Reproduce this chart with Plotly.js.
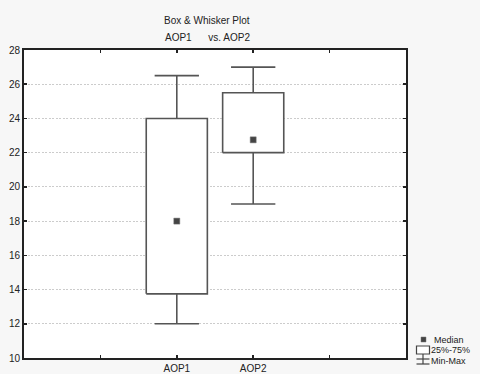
<!DOCTYPE html>
<html><head><meta charset="utf-8">
<script src="https://cdn.plot.ly/plotly-3.0.1.min.js"></script>
<style>html,body{margin:0;padding:0;background:#f7f7f7}</style>
</head><body>
<div id="chart" style="width:480px;height:374px"></div>
<script>
const categories = ['AOP1', 'AOP2'];
const minValues = [12, 19];
const q1Values = [13.75, 22];
const medianValues = [18, 22.75];
const q3Values = [24, 25.5];
const maxValues = [26.5, 27];

const boxHalf = 0.4, capHalf = 0.29;
const traces = [];
categories.forEach((c, i) => {
  // box (25%-75%)
  traces.push({
    type: 'scatter', mode: 'lines', showlegend: false, hoverinfo: 'skip',
    x: [i - boxHalf, i + boxHalf, i + boxHalf, i - boxHalf, i - boxHalf],
    y: [q1Values[i], q1Values[i], q3Values[i], q3Values[i], q1Values[i]],
    fill: 'toself', fillcolor: '#ffffff',
    line: {color: '#555555', width: 1.6}
  });
  // whiskers (min-max)
  traces.push({
    type: 'scatter', mode: 'lines', showlegend: false, hoverinfo: 'skip',
    x: [i, i, null, i - capHalf, i + capHalf, null, i, i, null, i - capHalf, i + capHalf],
    y: [q3Values[i], maxValues[i], null, maxValues[i], maxValues[i], null,
        q1Values[i], minValues[i], null, minValues[i], minValues[i]],
    line: {color: '#555555', width: 1.6}
  });
});
// medians
traces.push({
  type: 'scatter', mode: 'markers', showlegend: false,
  x: categories.map((c, i) => i), y: medianValues,
  marker: {symbol: 'square', size: 6, color: '#444444', line: {color: '#777777', width: 0.5}}
});

const layout = {
  width: 480, height: 374,
  paper_bgcolor: '#f7f7f7', plot_bgcolor: '#ffffff',
  margin: {l: 24, r: 74, t: 50, b: 16},
  font: {family: 'Liberation Sans, Arial, sans-serif', size: 10, color: '#222'},
  showlegend: false,
  xaxis: {
    range: [-2, 3], tickvals: [-1, 0, 1, 2], ticktext: ['', categories[0], categories[1], ''],
    ticks: 'inside', ticklen: 3, tickwidth: 1.5, tickcolor: '#222',
    showline: true, linecolor: '#222', linewidth: 1.8, mirror: 'ticks',
    showgrid: false, zeroline: false, fixedrange: true,
    tickfont: {size: 10}
  },
  yaxis: {
    range: [10, 28], dtick: 2, tick0: 10,
    ticks: 'inside', ticklen: 3, tickwidth: 1.5, tickcolor: '#222',
    showline: true, linecolor: '#222', linewidth: 1.8, mirror: 'ticks',
    showgrid: true, gridcolor: '#cccccc', gridwidth: 1, griddash: '2px,1.5px',
    zeroline: false, fixedrange: true, tickfont: {size: 10}
  },
  annotations: [
    {text: 'Box &amp; Whisker Plot', xref: 'paper', yref: 'paper', x: 0.48, y: 1, yshift: 30,
     showarrow: false, font: {size: 10}, xanchor: 'center', yanchor: 'middle'},
    {text: 'AOP1&nbsp;&nbsp;&nbsp;&nbsp;&nbsp; vs. AOP2', xref: 'paper', yref: 'paper', x: 0.48, y: 1, yshift: 13,
     showarrow: false, font: {size: 10}, xanchor: 'center', yanchor: 'middle'},
    {text: 'Median', xref: 'paper', yref: 'paper', x: 1, xshift: 27, y: 0, yshift: 18.5,
     showarrow: false, font: {size: 9}, xanchor: 'left', yanchor: 'middle', borderpad: 0},
    {text: '25%-75%', xref: 'paper', yref: 'paper', x: 1, xshift: 24, y: 0, yshift: 8,
     showarrow: false, font: {size: 9}, xanchor: 'left', yanchor: 'middle', borderpad: 0},
    {text: 'Min-Max', xref: 'paper', yref: 'paper', x: 1, xshift: 24, y: 0, yshift: -2.5,
     showarrow: false, font: {size: 9}, xanchor: 'left', yanchor: 'middle', borderpad: 0}
  ],
  shapes: []
};

// legend icons (paper-pixel offsets from the plot's bottom-right corner)
const plotW = 480 - 24 - 74, plotH = 374 - 50 - 16;
function px(dx) { return 1 + dx / plotW; }
function py(dy) { return dy / plotH; }
layout.shapes.push(
  {type: 'rect', xref: 'paper', yref: 'paper', x0: px(15), x1: px(20), y0: py(16), y1: py(21),
   fillcolor: '#444', line: {color: '#777', width: 0.5}},
  {type: 'rect', xref: 'paper', yref: 'paper', x0: px(10.5), x1: px(23.5), y0: py(4), y1: py(12),
   fillcolor: '#fff', line: {color: '#444', width: 1.2}},
  {type: 'line', xref: 'paper', yref: 'paper', x0: px(17), x1: px(17), y0: py(4), y1: py(-6),
   line: {color: '#444', width: 1.2}},
  {type: 'line', xref: 'paper', yref: 'paper', x0: px(10.5), x1: px(23.5), y0: py(-1), y1: py(-1),
   line: {color: '#444', width: 1.2}},
  {type: 'line', xref: 'paper', yref: 'paper', x0: px(10.5), x1: px(23.5), y0: py(-6), y1: py(-6),
   line: {color: '#444', width: 1.2}}
);

Plotly.newPlot('chart', traces, layout, {displayModeBar: false, staticPlot: true});
</script>
</body></html>
